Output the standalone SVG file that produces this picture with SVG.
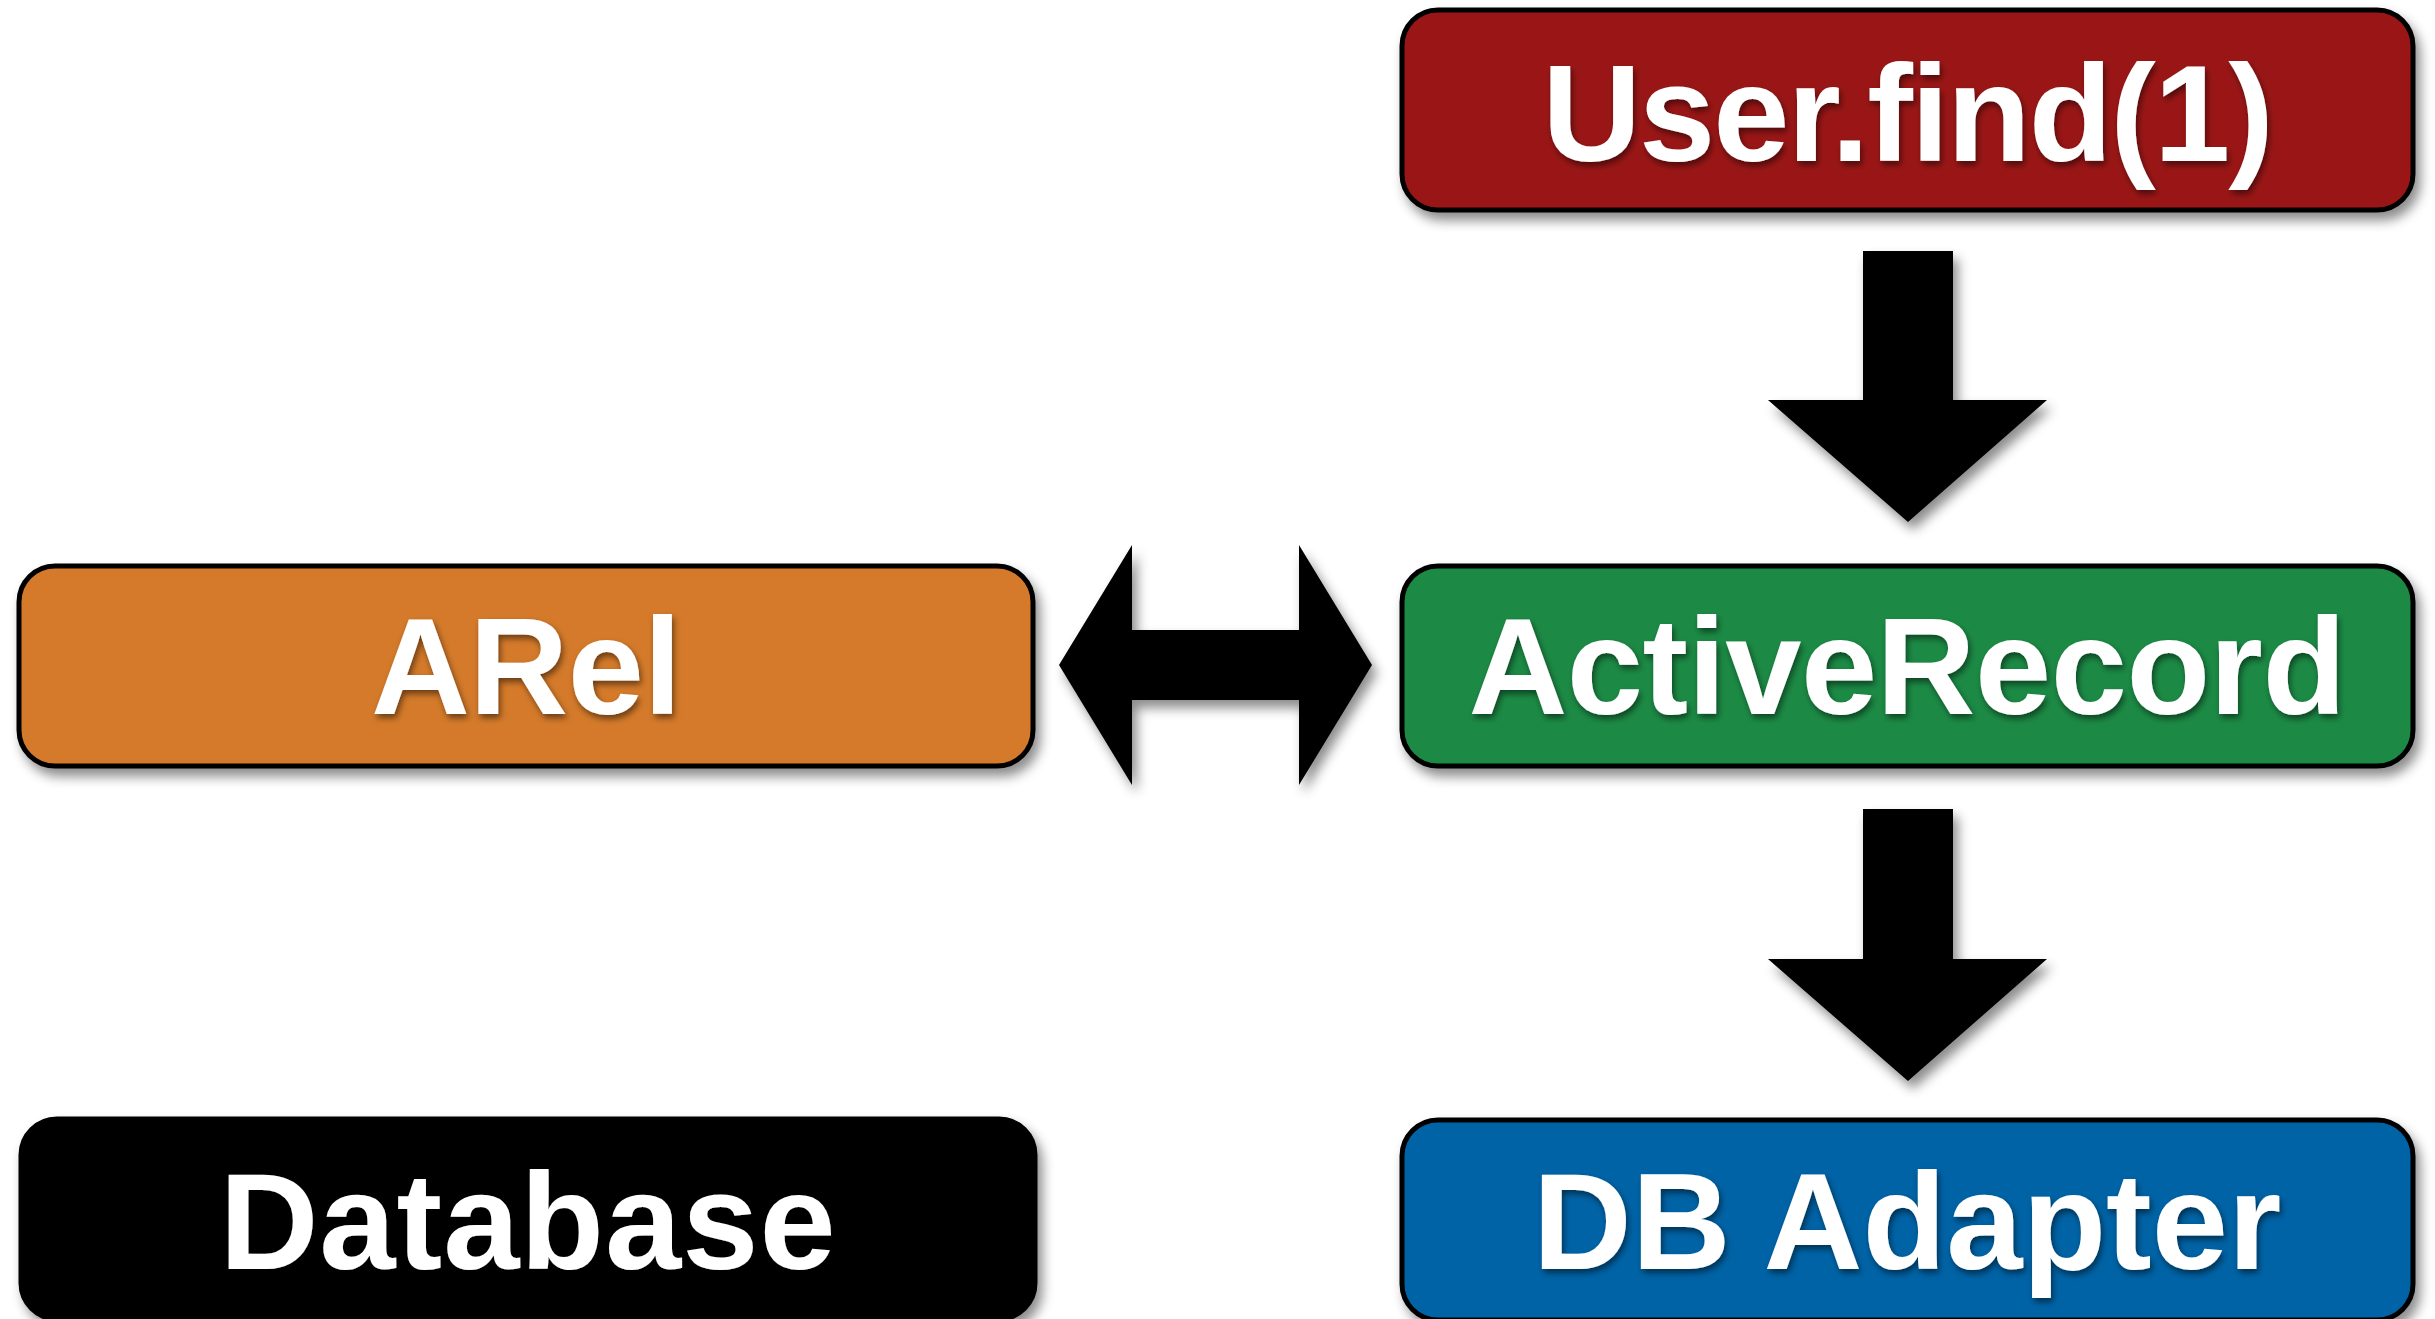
<svg xmlns="http://www.w3.org/2000/svg" width="2435" height="1319" viewBox="0 0 2435 1319">
<defs>
<filter id="sh" x="-10%" y="-20%" width="120%" height="150%">
<feDropShadow dx="5" dy="8" stdDeviation="6" flood-color="#000" flood-opacity="0.45"/>
</filter>
<filter id="tsh" x="-10%" y="-20%" width="120%" height="150%">
<feDropShadow dx="2" dy="4" stdDeviation="3" flood-color="#000" flood-opacity="0.5"/>
</filter>
</defs>
<style>
.box{stroke:#000;stroke-width:5}
.lbl{font-family:"Liberation Sans",Arial,Helvetica,sans-serif;font-weight:bold;font-size:137px;fill:#fff;text-anchor:middle;letter-spacing:-2px}
.arr{fill:#000}
</style>
<rect width="2435" height="1319" fill="#fff"/>
<g id="connectors" filter="url(#sh)">
<polygon class="arr" points="1863,251 1953,251 1953,400 2047,400 1908,522 1768,400 1863,400"/>
<polygon class="arr" points="1863,809 1953,809 1953,959 2047,959 1908,1081 1768,959 1863,959"/>
<polygon class="arr" points="1059,665 1132,545 1132,630 1299,630 1299,545 1372,665 1299,785 1299,700 1132,700 1132,785"/>
</g>
<g id="userfind">
<rect class="box" x="1402" y="10" width="1011" height="200" rx="36" fill="#9A1914" filter="url(#sh)"/>
<text class="lbl" x="1907" y="161" filter="url(#tsh)">User.find(1)</text>
</g>
<g id="arel">
<rect class="box" x="19" y="566" width="1014" height="200" rx="36" fill="#D47A2A" filter="url(#sh)"/>
<text class="lbl" x="526" y="714" filter="url(#tsh)" style="letter-spacing:-0.5px">ARel</text>
</g>
<g id="activerecord">
<rect class="box" x="1402" y="566" width="1011" height="200" rx="36" fill="#1B8A45" filter="url(#sh)"/>
<text class="lbl" x="1907" y="714" filter="url(#tsh)" style="letter-spacing:-0.5px">ActiveRecord</text>
</g>
<g id="database">
<rect class="box" x="21" y="1119" width="1014" height="200" rx="36" fill="#000" filter="url(#sh)"/>
<text class="lbl" x="528" y="1269" filter="url(#tsh)" style="letter-spacing:1px">Database</text>
</g>
<g id="dbadapter">
<rect class="box" x="1402" y="1120" width="1011" height="200" rx="36" fill="#0064A6" filter="url(#sh)"/>
<text class="lbl" x="1907" y="1269" filter="url(#tsh)" style="letter-spacing:0px">DB Adapter</text>
</g>
</svg>
